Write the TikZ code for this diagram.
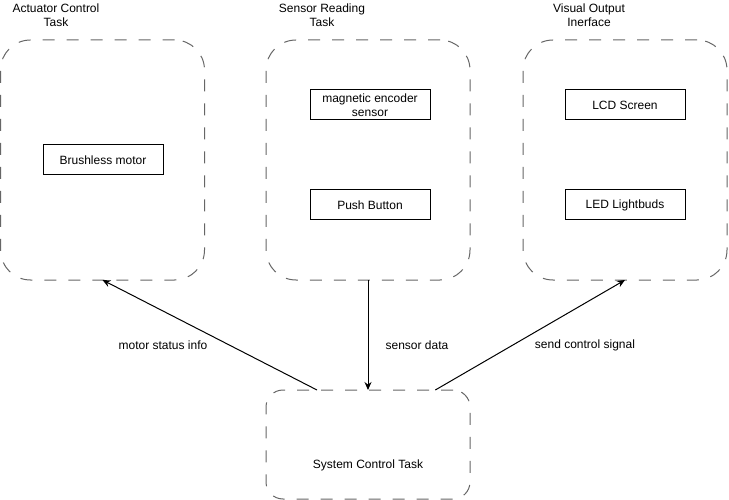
\documentclass[tikz,border=0pt]{standalone}
\usepackage{fontspec}
\setmainfont{Liberation Sans}
\usepackage{tikz}
\usetikzlibrary{positioning, arrows.meta, calc}
\definecolor{dashgray}{RGB}{102, 102, 102}

\begin{document}
\begin{tikzpicture}[
    x=1pt, y=-1pt,
    line width=1pt,
    font=\fontsize{12pt}{14.5pt}\selectfont,
    taskbox/.style={
      rectangle,
      draw=dashgray,
      dash pattern=on 12pt off 12pt,
      rounded corners=30pt,
      minimum width=204pt,
      minimum height=240pt,
      outer sep=0pt,
      align=center
    },
    part/.style={
      rectangle,
      draw=black,
      minimum width=120pt,
      minimum height=30pt,
      inner sep=1pt,
      outer sep=0pt,
      align=center
    },
    title/.style={align=center},
    arrow/.style={-{Stealth[length=8pt, width=7pt]}, draw=black},
    node distance=70pt
  ]
    \useasboundingbox (0,0) rectangle (729,500);

    % task groups
    \node[taskbox] (act) at (102.5,160) {};
    \node[taskbox] (sens) at (368,160) {};
    \node[taskbox] (vis) at (625,160) {};
    \node[taskbox, minimum height=109pt, rounded corners=17pt] (sys) at (368,444.5) {};
    \node (systext) at (368,465) {System Control Task};

    \node[title] (acttitle) at (56,15) {Actuator Control\\Task};
    \node[title] (senstitle) at (322,15) {Sensor Reading\\Task};
    \node[title] (vistitle) at (589,15) {Visual Output\\Inerface};

    % components
    \node[part] (motor) at (103,160) {Brushless motor};
    \node[part] (encoder) at (370,105) {magnetic encoder\\sensor};
    \node[part, below=of encoder] (button) {Push Button};
    \node[part] (lcd) at (625,105) {LCD Screen};
    \node[part, below=of lcd] (led) {LED Lightbuds};

    % data flow
    \draw[arrow] ($(sys.north west)!0.25!(sys.north east)$) -- (act.south);
    \draw[arrow] (sens.south) -- (sys.north);
    \draw[arrow] ($(sys.north west)!0.83!(sys.north east)$) -- (vis.south);

    \node (statuslbl) at (163,345) {motor status info};
    \node (datalbl) at (417,345) {sensor data};
    \node (signallbl) at (585,345) {send control signal};
  \end{tikzpicture}
\end{document}
